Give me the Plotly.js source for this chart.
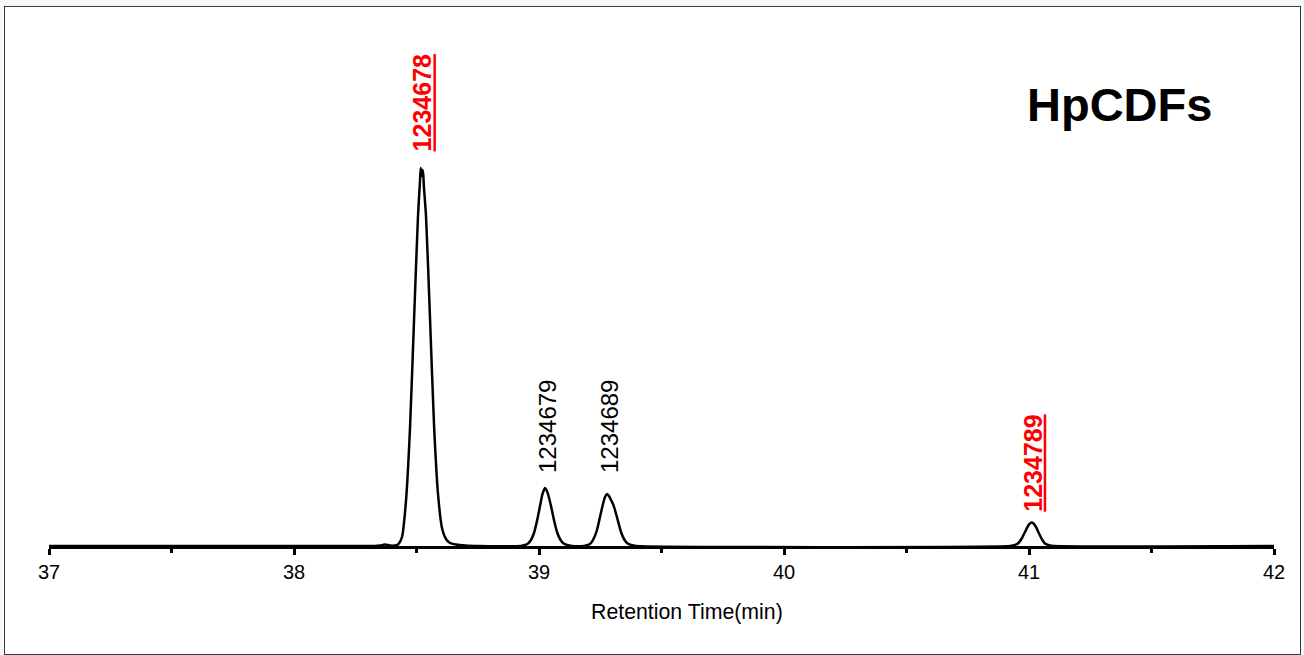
<!DOCTYPE html>
<html>
<head>
<meta charset="utf-8">
<script src="https://cdn.plot.ly/plotly-3.0.1.min.js"></script>
<style>
  html, body { margin: 0; padding: 0; background: #f5f8fb; }
  #frame {
    position: absolute; left: 4px; top: 6px;
    width: 1295px; height: 647px;
    border: 1px solid #3a3a3a; background: #ffffff;
  }
</style>
</head>
<body>
<div id="frame"></div>
<script>
// HpCDF chromatogram: retention time (min) vs detector signal
const retentionTime = [
  37.0000, 38.3306, 38.3510, 38.3714, 38.3918, 38.4122, 38.4245, 38.4408,
  38.4571, 38.4735, 38.4898, 38.5061, 38.5143, 38.5171, 38.5204, 38.5241,
  38.5273, 38.5306, 38.5388, 38.5551, 38.5714, 38.5878, 38.6041, 38.6204,
  38.6367, 38.6612, 38.6980, 38.7592,
  38.9265, 38.9429, 38.9551, 38.9673, 38.9796, 38.9918, 39.0041, 39.0122,
  39.0184, 39.0245, 39.0306, 39.0367, 39.0490, 39.0612, 39.0735, 39.0857,
  39.0980, 39.1143, 39.1347,
  39.1837, 39.2000, 39.2122, 39.2245, 39.2367, 39.2490, 39.2612, 39.2694,
  39.2776, 39.2857, 39.2939, 39.3020, 39.3102, 39.3224, 39.3347, 39.3469,
  39.3592, 39.3755, 39.3959,
  40.9224, 40.9429, 40.9592, 40.9714, 40.9837, 40.9959, 41.0041, 41.0110,
  41.0184, 41.0286, 41.0408, 41.0531, 41.0653, 41.0816, 41.1020,
  42.0000
];
const signal = [
  0, 0, 0.5, 1.5, 0.5, 0.5, 1.5, 9,
  45, 118, 225, 330, 365, 378, 370, 376,
  372, 358, 330, 228, 122, 52, 18, 7,
  3, 1.5, 0.5, 0,
  0, 1, 2.5, 6, 13, 25, 40, 50,
  55, 58, 56, 52, 40, 26, 14, 7,
  3, 1, 0,
  0, 1, 3, 8, 16, 29, 42, 49,
  52, 50, 46, 42, 36, 25, 14, 7,
  3, 1, 0,
  0, 1, 3.5, 8, 14, 20, 22.5, 23.5,
  22.5, 19, 12.5, 6.5, 2.5, 0.8, 0,
  0
];

// Identified congeners (peak apex time and height)
const congeners   = ['1234678', '1234679', '1234689', '1234789'];
const apexTime    = [38.522, 39.0245, 39.2776, 41.011];
const apexSignal  = [378, 58, 52, 23.5];
const toxic       = [true, false, false, true];

const xTickVals = [37, 38, 39, 40, 41, 42];
const xTickText = ['37', '38', '39', '40', '41', '42'];

const FONT = 'Liberation Sans, Arial, sans-serif';
const labelGap = [15, 12.5, 18.5, 9];
const labelShift = [0, 2, 2, 1];

const annotations = congeners.map((name, i) => ({
  x: apexTime[i],
  y: apexSignal[i] + labelGap[i],
  xref: 'x', yref: 'y',
  xshift: labelShift[i],
  text: name,
  textangle: -90,
  showarrow: false,
  xanchor: 'center', yanchor: 'bottom',
  font: toxic[i]
    ? { family: FONT, size: 25, color: '#ff0000', weight: 'bold', lineposition: 'under' }
    : { family: FONT, size: 24, color: '#000000' }
}));

annotations.push({
  x: 0.8735, y: 0.84, xref: 'paper', yref: 'paper',
  text: '<b>HpCDFs</b>', showarrow: false,
  xanchor: 'center', yanchor: 'middle',
  font: { family: FONT, size: 47, color: '#000000' }
});

annotations.push({
  x: 0.5212, y: -0.125, xref: 'paper', yref: 'paper',
  text: 'Retention Time(min)', showarrow: false,
  xanchor: 'center', yanchor: 'middle',
  font: { family: FONT, size: 21.3, color: '#000000' }
});

const trace = {
  x: retentionTime,
  y: signal,
  type: 'scatter',
  mode: 'lines',
  line: { color: '#000000', width: 2.5, shape: 'spline', smoothing: 0.6 },
  hoverinfo: 'x+y'
};

const layout = {
  width: 1295, height: 647,
  margin: { l: 44, r: 26, t: 13, b: 108 },
  paper_bgcolor: '#ffffff',
  plot_bgcolor: '#ffffff',
  showlegend: false,
  xaxis: {
    range: [37, 42],
    tickvals: xTickVals, ticktext: xTickText,
    showgrid: false, zeroline: false,
    showline: true, linecolor: '#000000', linewidth: 3,
    ticks: 'outside', ticklen: 6, tickwidth: 3, tickcolor: '#000000',
    minor: { dtick: 0.5, tick0: 37, ticks: 'outside', ticklen: 4, tickwidth: 3, tickcolor: '#000000', showgrid: false },
    tickfont: { family: FONT, size: 20, color: '#000000' },
    fixedrange: true
  },
  yaxis: {
    range: [0, 526],
    visible: false,
    fixedrange: true
  },
  annotations: annotations
};

Plotly.newPlot('frame', [trace], layout, { displayModeBar: false, staticPlot: true });
</script>
</body>
</html>
